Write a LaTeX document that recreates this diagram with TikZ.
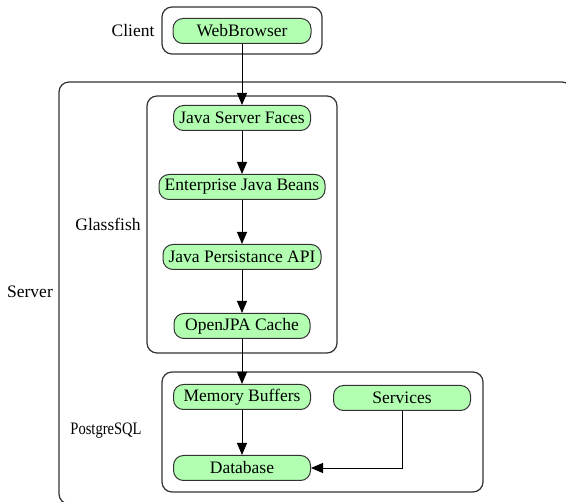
\documentclass[tikz,border=0pt]{standalone}
\usepackage{fontspec}
\setmainfont{Liberation Serif}
\usetikzlibrary{arrows.meta}
\definecolor{nodegreen}{RGB}{178,255,178}
\definecolor{boxline}{RGB}{50,50,50}
\tikzset{
  comp/.style={draw=boxline, line width=1pt, fill=nodegreen, rounded corners=10pt,
    minimum height=25pt, inner sep=0pt, font=\fontsize{17.5}{20}\selectfont},
  cluster/.style={draw=boxline, line width=1.2pt, rounded corners=10pt},
  lbl/.style={font=\fontsize{17.5}{20}\selectfont, inner sep=0pt},
  flow/.style={-{Triangle[length=12pt,width=10pt]}, line width=0.9pt}
}
\begin{document}
\begin{tikzpicture}[x=1pt,y=-1pt]
\useasboundingbox (0,0) rectangle (566,502);
\clip (0,0) rectangle (566,502);
% clusters
\draw[cluster] (162,7) rectangle (322,54);
\draw[cluster] (59,82) rectangle (572,504);
\draw[cluster] (147,96) rectangle (337,353);
\draw[cluster] (162,372) rectangle (483,492);
% labels
\node[lbl] (client) at (133,31) {Client};
\node[lbl] (server) at (30,292) {Server};
\node[lbl] (glassfish) at (108,224) {Glassfish};
\node[lbl] (postgres) at (106,431) {\scalebox{0.83}[1]{PostgreSQL}};
% nodes
\node[comp, minimum width=138pt] (web) at (242,31) {WebBrowser};
\node[comp, minimum width=137pt] (jsf) at (242,118) {Java Server Faces};
\node[comp, minimum width=166pt] (ejb) at (242,187) {Enterprise Java Beans};
\node[comp, minimum width=158pt] (jpa) at (242,257) {Java Persistance API};
\node[comp, minimum width=136pt] (cache) at (242,326) {OpenJPA Cache};
\node[comp, minimum width=137pt] (mem) at (242,397) {Memory Buffers};
\node[comp, minimum width=137pt] (svc) at (402,398) {Services};
\node[comp, minimum width=137pt] (db) at (242,468) {Database};
% connectors
\draw[flow] (web) -- (jsf);
\draw[flow] (jsf) -- (ejb);
\draw[flow] (ejb) -- (jpa);
\draw[flow] (jpa) -- (cache);
\draw[flow] (cache) -- (mem);
\draw[flow] (mem) -- (db);
\draw[flow] (svc.south) |- (db.east);
\end{tikzpicture}
\end{document}
